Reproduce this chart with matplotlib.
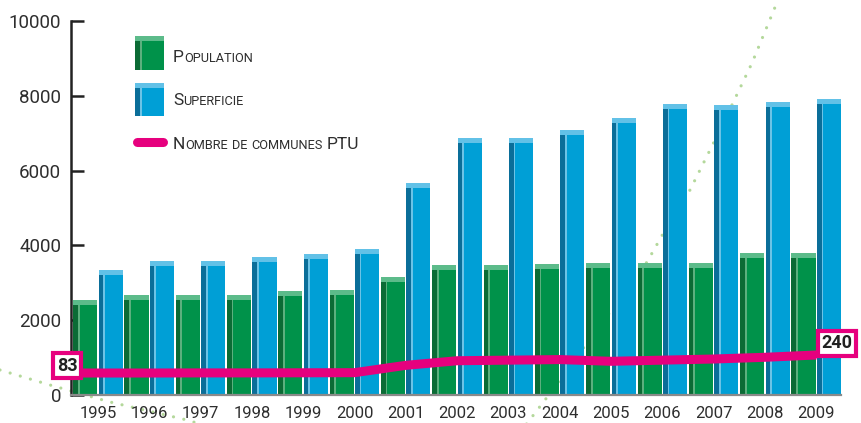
import matplotlib
matplotlib.use('Agg')
import numpy as np
import matplotlib.pyplot as plt
from matplotlib.patches import Rectangle
from matplotlib.lines import Line2D
from matplotlib.transforms import IdentityTransform

# donnees
annees = [str(a) for a in range(1995, 2010)]
population = [2540, 2670, 2670, 2670, 2780, 2800, 3150, 3480, 3480, 3500, 3530, 3530, 3530, 3800, 3800]
superficie = [3340, 3580, 3580, 3690, 3770, 3900, 5670, 6870, 6870, 7090, 7400, 7780, 7750, 7830, 7920]
communes_ptu = [83, 83, 84, 84, 85, 86, 150, 190, 195, 200, 185, 195, 205, 220, 240]

W, H = 861, 423
VERT = ('#00924a', '#0b6b35', '#5cb07e', '#5cbb8a')
BLEU = ('#009fd6', '#0a6e99', '#6cc3e6', '#62c1e7')
ROSE = '#e6007e'
TEXTE = '#2e2e2e'
POLICE = ['Roboto', 'DejaVu Sans']


def px(x, y):
    # pixels (origine en haut a gauche) -> fraction de figure
    return x / W, 1 - y / H


fig = plt.figure(figsize=(W / 100, H / 100), dpi=100)
ax = fig.add_axes([71 / W, (H - 395) / H, (841 - 71) / W, (395 - 21) / H])
ax.set_facecolor('none')

pos = np.arange(len(annees))
w = 0.47
cap = 130
cote = 0.09
reflet = 0.035


def barres_3d(centres, valeurs, couleurs):
    face, sombre, clair, dessus = couleurs
    v = np.array(valeurs) - cap
    gauche = centres - w / 2
    ax.bar(centres, v, width=w, color=face, zorder=2)
    ax.bar(gauche, v, width=cote, color=sombre, align='edge', zorder=2)
    ax.bar(gauche + cote, v, width=reflet, color=clair, align='edge', zorder=2)
    ax.bar(centres, cap, bottom=v, width=w, color=dessus, zorder=2)


barres_3d(pos - 0.25, population, VERT)
barres_3d(pos + 0.245, superficie, BLEU)

ax.set_xlim(-0.526, 14.48)
ax.set_ylim(0, 10000)
ax.set_yticks(range(0, 10001, 2000))
ax.set_xticks(pos)
ax.set_xticklabels(annees)
for s in ['top', 'right']:
    ax.spines[s].set_visible(False)
ax.spines['left'].set_color('#222222')
ax.spines['left'].set_linewidth(1.8)
ax.spines['bottom'].set_color('#8a8a8a')
ax.spines['bottom'].set_linewidth(1.6)
ax.tick_params(axis='y', direction='in', length=9, width=1.8, color='#222222',
               pad=7, labelsize=13.5, labelcolor=TEXTE)
ax.tick_params(axis='x', length=0, pad=8, labelsize=12, labelcolor=TEXTE)
for lab in ax.get_xticklabels() + ax.get_yticklabels():
    lab.set_family(POLICE)

# nombre de communes PTU sur un axe secondaire cache
ax2 = ax.twinx()
ax2.set_ylim(-108.5, 3149)
ax2.axis('off')
xs = np.r_[-0.31, pos]
ys = np.r_[communes_ptu[0], communes_ptu]
ax2.plot(xs, ys, color=ROSE, lw=6.5, solid_capstyle='butt', zorder=3)

boite = dict(boxstyle='square,pad=0.2', fc='white', ec=ROSE, lw=3)
for xa, va, dx, dy in [(-0.6, communes_ptu[0], 0, 7.5), (14, communes_ptu[-1], 20.5, 11.5)]:
    ax2.annotate(str(va), xy=(xa, va), xytext=(dx, dy),
                 textcoords='offset pixels', ha='center', va='center', fontsize=13,
                 fontweight='bold', color='#222222', family=['Roboto', 'DejaVu Sans'],
                 bbox=boite, annotation_clip=False, zorder=5)

# courbe pointillee decorative
deco_g = [(0, 370), (50, 385), (110, 402), (187, 420), (200, 424)]
deco_d = [(525, 426), (545, 400), (596, 331), (647, 262), (668, 225), (690, 190),
          (720, 130), (752, 63), (778, 0)]
for pts in (deco_g, deco_d):
    fx, fy = zip(*[px(x, y) for x, y in pts])
    fig.add_artist(Line2D(fx, fy, color='#b4d89b', lw=2.3, linestyle=(0, (0.01, 3.3)),
                          dash_capstyle='round', zorder=-1))


# legende
def patch_3d(x0, y0, x1, y1, couleurs):
    face, sombre, clair, dessus = couleurs
    for (a, b, c, d, col) in [(x0, y0, x1, y1, face), (x0, y0 + 4, x0 + 5, y1, sombre),
                              (x0 + 5, y0 + 4, x0 + 7, y1, clair), (x0, y0, x1, y0 + 5, dessus)]:
        fa, fb = px(a, d)
        fig.add_artist(Rectangle((fa, fb), (c - a) / W, (d - b) / H, color=col, lw=0))


patch_3d(135, 36, 164, 70, VERT)
patch_3d(135, 83, 164, 116, BLEU)
lx, ly = zip(px(137, 142), px(163, 142))
fig.add_artist(Line2D(lx, ly, color=ROSE, lw=6.5, solid_capstyle='round'))

rend = fig.canvas.get_renderer()


def petites_caps(x, y, morceaux):
    # x, y en pixels depuis le haut ; y = ligne de base
    cx = x
    for txt, grand in morceaux:
        if txt == ' ':
            cx += 4
            continue
        t = fig.text(cx, H - y, txt, fontsize=12.5 if grand else 9.2, color=TEXTE,
                     family=POLICE, va='baseline', ha='left',
                     transform=IdentityTransform())
        cx += t.get_window_extent(rend).width


petites_caps(173, 62, [('P', True), ('OPULATION', False)])
petites_caps(173, 105, [('S', True), ('UPERFICIE', False)])
petites_caps(173, 149, [('N', True), ('OMBRE', False), (' ', 0), ('DE', False), (' ', 0),
                        ('COMMUNES', False), (' ', 0), ('PTU', True)])

fig.savefig('out.png', dpi=100)
